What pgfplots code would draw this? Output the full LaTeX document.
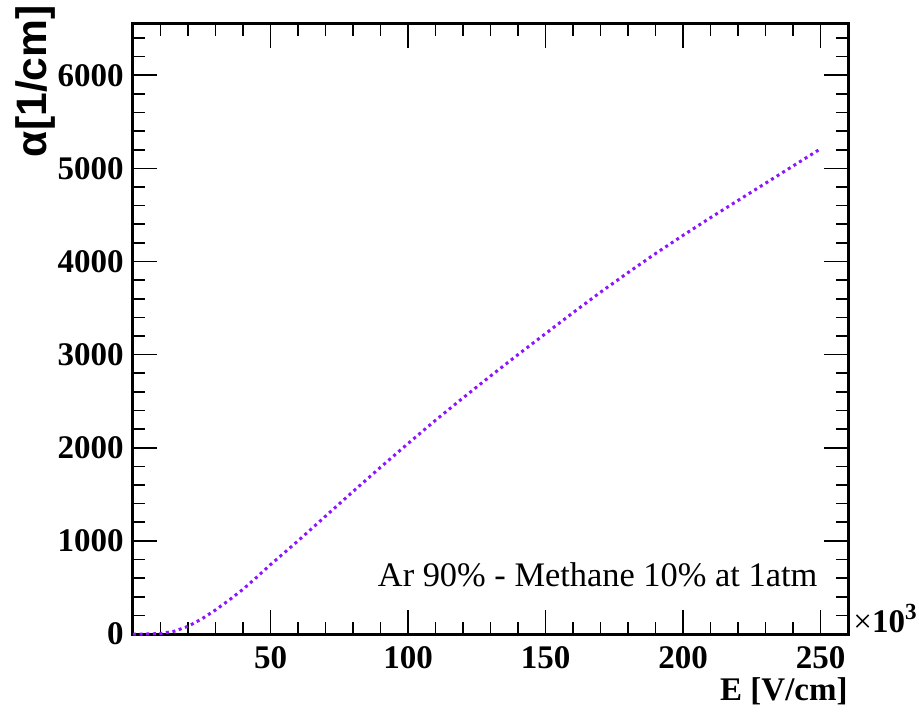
\documentclass[border=0pt]{standalone}
\usepackage{fontspec}
\setmainfont{Liberation Serif}
\newfontfamily\arialfont{Liberation Sans}
\usepackage{pgfplots}
\pgfplotsset{compat=1.18}
\definecolor{violetline}{RGB}{140,20,255}
\begin{document}
\begin{tikzpicture}
\useasboundingbox (-66.5pt,-38.5pt) rectangle (393pt,317pt);
\begin{axis}[
  at={(0,0)}, anchor=south west,
  scale only axis, width=357.5pt, height=305pt,
  xmin=0, xmax=260, ymin=0, ymax=6550,
  clip=false,
  xtick={50,100,150,200,250},
  ytick={0,1000,2000,3000,4000,5000,6000},
  minor xtick={0,10,...,260},
  minor ytick={0,200,...,6400},
  tick align=inside,
  tick pos=both,
  major tick length=12pt, minor tick length=6pt,
  axis line style={line width=1.5pt},
  every tick/.style={black, line width=0.8pt},
  scaled ticks=false,
  /pgf/number format/assume math mode=true,
  /pgf/number format/set thousands separator={},
  ticklabel style={font=\bfseries\fontsize{16.5}{18}\selectfont},
  xticklabel style={inner sep=0pt, yshift=-6pt},
  yticklabel style={inner sep=0pt, xshift=-4.5pt},
]
\addplot[violetline, line width=1.5pt, dash pattern=on 1.5pt off 1.8pt] table {
x y
0 0
5 0
10 5
15 30
20 82
25 162
30 258
35 365
40 480
45 610
50 745
60 1000
70 1265
80 1530
90 1790
100 2045
110 2295
120 2535
130 2770
140 3000
150 3225
160 3450
170 3670
180 3880
190 4085
200 4280
210 4470
220 4655
230 4840
240 5025
250 5210
};
\node[anchor=base east, inner sep=0pt, font=\fontsize{17.2}{20}\selectfont] at (axis cs:249,507) {Ar 90\% - Methane 10\% at 1atm};
\node[anchor=base east, inner sep=0pt, yshift=-33pt, font=\bfseries\fontsize{16.5}{18}\selectfont] at (rel axis cs:1,0) {E [V/cm]};
\node[anchor=base west, inner sep=0pt, xshift=2.5pt, yshift=1pt, font=\fontsize{16.5}{18}\selectfont] at (rel axis cs:1,0) {×\textbf{10}\textsuperscript{\textbf{3}}};
\node[rotate=90, anchor=east, inner sep=0pt, xshift=9.5pt, yshift=49pt, font=\arialfont\bfseries\fontsize{21.3}{24}\selectfont] at (rel axis cs:0,1) {α[1/cm]};
\end{axis}
\end{tikzpicture}
\end{document}
